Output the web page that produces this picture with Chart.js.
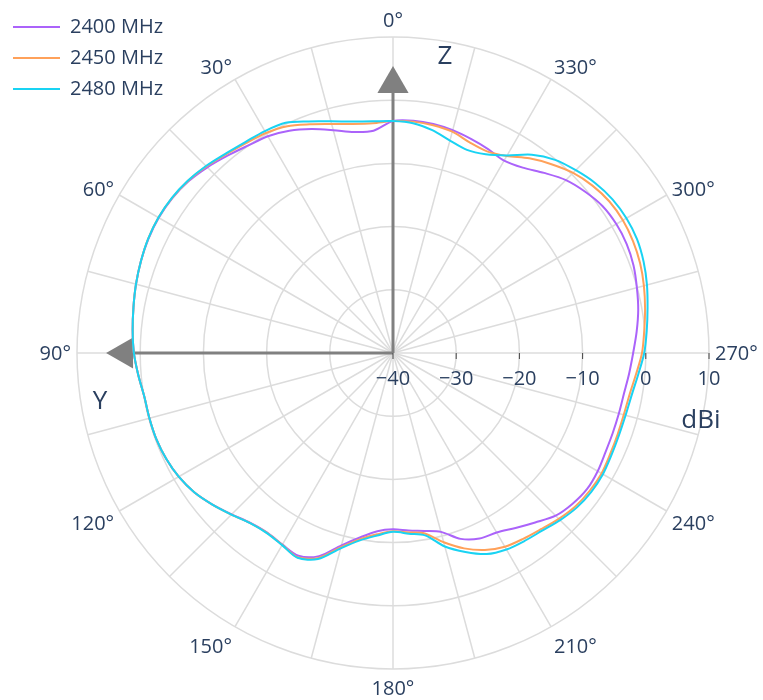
<!DOCTYPE html>
<html>
<head>
<meta charset="utf-8">
<script src="https://cdn.jsdelivr.net/npm/chart.js@4/dist/chart.umd.min.js"></script>
<style>
  html, body { margin: 0; padding: 0; background: #ffffff; }
  canvas { display: block; }
</style>
</head>
<body>
<canvas id="c" width="763" height="700"></canvas>
<script>
// ---- categories: angle in degrees (counter-clockwise from top) ----
const angleDeg = [0,5,10,15,20,25,30,35,40,45,50,55,
                  60,65,70,75,80,85,90,95,100,105,110,115,
                  120,125,130,135,140,145,150,155,160,165,170,175,
                  180,185,190,195,200,205,210,215,220,225,230,235,
                  240,245,250,255,260,265,270,275,280,285,290,295,
                  300,305,310,315,320,325,330,335,340,345,350,355];

// ---- series values (dBi), one per angle ----
const s2400 = [-3.3,-4.7,-4.5,-3.5,-2.3,-1.2,-0.4,0.05,0.75,1.55,2.25,2.65,
               2.8,2.7,2.45,2.1,1.7,1.35,1.0,0.45,-0.05,-0.1,-0.15,-0.4,
               -0.85,-1.6,-2.7,-3.9,-4.9,-5.3,-5.0,-4.6,-5.8,-8.5,-10.4,-11.7,
               -12.1,-11.8,-11.4,-10.7,-8.7,-7.6,-7.2,-6.2,-5.0,-3.6,-2.9,-2.5,
               -2.6,-2.9,-3.0,-3.0,-2.9,-2.5,-2.0,-1.3,-0.6,-0.05,0.5,0.8,
               0.8,0.5,-0.3,-1.3,-2.8,-4.2,-4.85,-4.4,-3.95,-3.5,-3.2,-3.1];
const s2450 = [-3.3,-3.5,-3.2,-2.5,-1.5,-0.4,0.2,0.55,1.05,1.75,2.35,2.7,
               2.85,2.75,2.45,2.1,1.7,1.35,1.0,0.45,-0.05,-0.1,-0.15,-0.4,
               -0.85,-1.6,-2.7,-3.85,-4.85,-5.25,-4.95,-4.35,-5.5,-8.2,-10.1,-11.2,
               -11.8,-11.5,-11.0,-9.0,-7.1,-5.6,-4.6,-4.1,-3.6,-2.9,-2.3,-2.0,
               -1.9,-2.1,-2.2,-2.2,-2.0,-1.4,-0.6,-0.1,0.5,1.1,1.6,1.9,
               2.0,1.8,1.2,0.3,-1.0,-2.4,-4.0,-4.8,-4.55,-3.75,-3.4,-3.25];
const s2480 = [-3.3,-3.2,-2.8,-2.05,-1.0,0.2,0.55,0.75,1.2,1.85,2.4,2.75,
               2.85,2.75,2.45,2.1,1.7,1.35,1.0,0.45,-0.05,-0.1,-0.15,-0.4,
               -0.85,-1.6,-2.7,-3.85,-4.85,-5.2,-4.9,-4.25,-5.3,-8.0,-9.9,-11.0,
               -11.7,-11.3,-10.7,-8.3,-6.5,-4.9,-4.1,-3.7,-3.3,-2.6,-2.0,-1.7,
               -1.65,-1.85,-1.95,-1.9,-1.65,-1.05,-0.25,0.3,0.9,1.6,2.2,2.6,
               2.65,2.4,1.8,0.9,-0.1,-1.7,-3.9,-5.3,-5.8,-5.2,-4.2,-3.5];

const seriesNames = ['2400 MHz', '2450 MHz', '2480 MHz'];

// ---- tick labels ----
const angleTicks = [0,30,60,90,120,150,180,210,240,270,300,330];
const angleTickLabels = ['0°','30°','60°','90°','120°','150°','180°','210°','240°','270°','300°','330°'];
const radialTicks = [-40,-30,-20,-10,0,10];
const radialTickLabels = ['\u221240','\u221230','\u221220','\u221210','0','10'];
const radialTitle = 'dBi';
const axisArrowAngles = [0, 90];
const axisArrowNames = ['Z', 'Y'];
const axisArrowValue = 2.55;

// ---- styles ----
const seriesColors = ['#ab63fa', '#FFA15A', '#19d3f3'];
const textColor = '#2a3f5f';
const gridColor = '#dcdcdc';
const arrowColor = '#808080';
const FONT = '"Open Sans", sans-serif';

// Chart.js radar goes clockwise, the reference goes counter-clockwise:
const N = angleDeg.length;
const chartLabels = angleDeg.map((_, i) => angleDeg[(N - i) % N]);
const idxOfAngle = a => chartLabels.indexOf(((a % 360) + 360) % 360);
const toChart = s => chartLabels.map(a => s[angleDeg.indexOf(a)]);

// arrows: a radial segment from the centre (min value) to the arrow value
const arrowData = chartLabels.map(() => null);
const arrowIdx = [];
axisArrowAngles.forEach(a => {
  const i = idxOfAngle(a);
  arrowIdx.push(i);
  arrowData[i] = axisArrowValue;
  arrowData[(i + 1) % N] = radialTicks[0];
});

const seriesData = [s2400, s2450, s2480];
const datasets = seriesData.map((s, k) => ({
  label: seriesNames[k],
  data: toChart(s),
  borderColor: seriesColors[k],
  backgroundColor: seriesColors[k],
  borderWidth: 2,
  pointRadius: 0,
  fill: false,
  tension: 0.3,
  order: 2 - k
}));
datasets.push({
  label: 'axes',
  data: arrowData,
  borderColor: arrowColor,
  backgroundColor: arrowColor,
  borderWidth: 3,
  fill: false,
  tension: 0,
  spanGaps: false,
  pointStyle: 'triangle',
  pointRadius: c => arrowIdx.includes(c.dataIndex) ? 18 : 0,
  pointRotation: c => {
    const k = arrowIdx.indexOf(c.dataIndex);
    return k >= 0 ? -axisArrowAngles[k] : 0;
  },
  pointBackgroundColor: arrowColor,
  pointBorderWidth: 0,
  order: 3
});

// the legend reserves a narrow strip on the left, but may draw wider
const legendRoom = {
  id: 'legendRoom',
  afterLayout(chart) {
    const lg = chart.legend;
    if (lg) { lg.width = 200; lg.right = lg.left + 200; }
  }
};

const polarDecor = {
  id: 'polarDecor',
  afterDatasetsDraw(chart) {
    const sc = chart.scales.r;
    const ctx = chart.ctx;
    const R = sc.drawingArea;
    ctx.save();

    // radial axis ticks along the 270° direction
    const iAxis = idxOfAngle(270);
    ctx.strokeStyle = '#444';
    ctx.lineWidth = 1;
    ctx.fillStyle = textColor;
    ctx.font = '20px ' + FONT;
    ctx.textAlign = 'center';
    ctx.textBaseline = 'alphabetic';
    radialTicks.forEach((v, k) => {
      const p = sc.getPointPosition(iAxis, sc.getDistanceFromCenterForValue(v));
      ctx.beginPath();
      ctx.moveTo(p.x, p.y);
      ctx.lineTo(p.x, p.y + 6);
      ctx.stroke();
      ctx.fillText(radialTickLabels[k], p.x, p.y + 32);
    });

    // angular tick labels
    const f = 20, standoff = 6;
    ctx.font = f + 'px ' + FONT;
    angleTicks.forEach((a, k) => {
      const P = sc.getPointPosition(idxOfAngle(a), R);
      const rad = (a + 90) * Math.PI / 180;
      const c = Math.cos(rad), s = Math.sin(rad);
      const ff = s > 0 ? 0.2 : 1;
      const x = P.x + c * standoff;
      const y = P.y - s * (standoff + f * ff) + Math.abs(c) * f * 0.35;
      ctx.textAlign = Math.abs(c) < 0.1 ? 'center' : (c > 0 ? 'left' : 'right');
      ctx.fillText(angleTickLabels[k], x, y);
    });

    // axis names
    ctx.font = '26px ' + FONT;
    ctx.textAlign = 'center';
    ctx.textBaseline = 'middle';
    ctx.fillText(axisArrowNames[0], sc.xCenter + 52, sc.yCenter - 296);
    ctx.fillText(axisArrowNames[1], sc.xCenter - 293, sc.yCenter + 49);
    ctx.fillText(radialTitle, sc.xCenter + 308, sc.yCenter + 68);
    ctx.restore();
  }
};

Chart.defaults.font.family = FONT;

new Chart(document.getElementById('c'), {
  type: 'radar',
  data: { labels: chartLabels, datasets: datasets },
  options: {
    responsive: false,
    animation: false,
    devicePixelRatio: 1,
    events: [],
    layout: { padding: { left: 2, top: 6, right: 54, bottom: 0 } },
    scales: {
      r: {
        min: radialTicks[0],
        max: radialTicks[radialTicks.length - 1],
        beginAtZero: false,
        startAngle: 0,
        ticks: { display: false, stepSize: 10 },
        grid: { circular: true, color: gridColor, lineWidth: 1.5 },
        angleLines: {
          display: true,
          color: gridColor,
          lineWidth: c => (chartLabels[c.index] % 15 === 0 ? 1.5 : 0)
        },
        pointLabels: { display: false }
      }
    },
    plugins: {
      tooltip: { enabled: false },
      legend: {
        position: 'left',
        align: 'start',
        maxWidth: 75,
        labels: {
          usePointStyle: true,
          pointStyle: 'line',
          pointStyleWidth: 47,
          padding: 11,
          color: textColor,
          font: { size: 20, family: FONT },
          filter: item => item.datasetIndex < seriesNames.length,
          sort: (a, b) => a.datasetIndex - b.datasetIndex
        }
      }
    }
  },
  plugins: [legendRoom, polarDecor]
});
</script>
</body>
</html>
